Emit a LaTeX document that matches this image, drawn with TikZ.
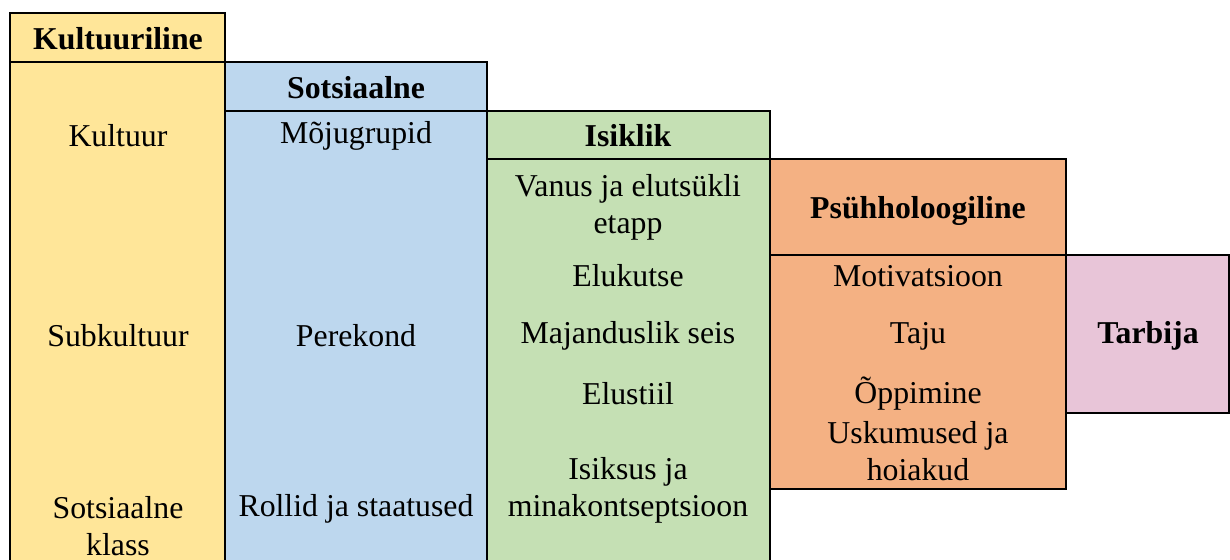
\documentclass[tikz,border=0pt]{standalone}
\usepackage{fontspec}
\setmainfont{Liberation Serif}
\definecolor{cyel}{HTML}{FFE699}
\definecolor{cblu}{HTML}{BDD7EE}
\definecolor{cgrn}{HTML}{C5E0B4}
\definecolor{corg}{HTML}{F4B183}
\definecolor{cpnk}{HTML}{E8C5D8}
\begin{document}
\begin{tikzpicture}[x=1pt,y=-1pt,
  cell/.style={draw=black, line width=1.4pt, inner sep=0pt, outer sep=0pt, anchor=north west},
  lbl/.style={inner sep=0pt, align=center, font=\fontsize{31.8}{37}\selectfont},
  hdr/.style={lbl, font=\fontsize{31.8}{37}\selectfont\bfseries}]
\useasboundingbox (0,0) rectangle (1230,559);
\clip (0,0) rectangle (1230,559);
% Kultuuriline
\node[cell, fill=cyel, minimum width=215pt, minimum height=49pt] (kh) at (10,13) {};
\node[cell, fill=cyel, minimum width=215pt, minimum height=520pt] (kb) at (10,62) {};
% Sotsiaalne
\node[cell, fill=cblu, minimum width=262pt, minimum height=49pt] (sh) at (225,62) {};
\node[cell, fill=cblu, minimum width=262pt, minimum height=470pt] (sb) at (225,111) {};
% Isiklik
\node[cell, fill=cgrn, minimum width=283pt, minimum height=48pt] (ih) at (487,111) {};
\node[cell, fill=cgrn, minimum width=283pt, minimum height=420pt] (ib) at (487,159) {};
% Psyhholoogiline
\node[cell, fill=corg, minimum width=296pt, minimum height=96pt] (ph) at (770,159) {};
\node[cell, fill=corg, minimum width=296pt, minimum height=234pt] (pb) at (770,255) {};
% Tarbija
\node[cell, fill=cpnk, minimum width=163pt, minimum height=158pt] (tb) at (1066,255) {};

% texts
\node[hdr] (t1) at (118,39) {Kultuuriline};
\node[lbl] (t2) at (118,136) {Kultuur};
\node[lbl] (t3) at (118,336) {Subkultuur};
\node[lbl] (t4) at (118,526) {Sotsiaalne\\klass};

\node[hdr] (t5) at (356,88) {Sotsiaalne};
\node[lbl] (t6) at (356,136) {Mõjugrupid};
\node[lbl] (t7) at (356,336) {Perekond};
\node[lbl] (t8) at (356,509) {Rollid ja staatused};

\node[hdr] (t9) at (628,136) {Isiklik};
\node[lbl] (t10) at (628,207) {Vanus ja elutsükli\\etapp};
\node[lbl] (t11) at (628,276) {Elukutse};
\node[lbl] (t12) at (628,336) {Majanduslik seis};
\node[lbl] (t13) at (628,394) {Elustiil};
\node[lbl] (t14) at (628,490) {Isiksus ja\\minakontseptsioon};

\node[hdr] (t15) at (918,211) {Psühholoogiline};
\node[lbl] (t16) at (918,276) {Motivatsioon};
\node[lbl] (t17) at (918,336) {Taju};
\node[lbl] (t18) at (918,394) {Õppimine};
\node[lbl] (t19) at (918,451) {Uskumused ja\\hoiakud};

\node[hdr] (t20) at (1148,336) {Tarbija};
\end{tikzpicture}
\end{document}
